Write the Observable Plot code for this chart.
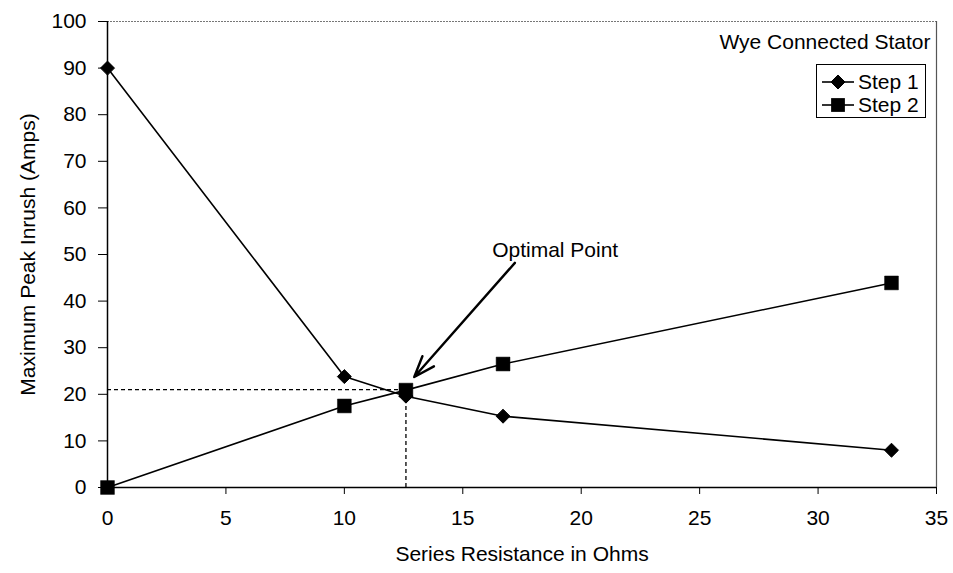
<!DOCTYPE html>
<html>
<head>
<meta charset="utf-8">
<script src="https://cdn.jsdelivr.net/npm/d3@7"></script>
<script src="https://cdn.jsdelivr.net/npm/@observablehq/plot@0.6"></script>
<style>
  html, body { margin: 0; padding: 0; background: #fff; }
  #wrap { position: relative; width: 953px; height: 573px; font-family: "Liberation Sans", Arial, sans-serif; }
  #legend { position: absolute; left: 816px; top: 64px; width: 108px; height: 52px; border: 1px solid #000; background: #fff; }
</style>
</head>
<body>
<div id="wrap"><div id="chart"></div><div id="legend"></div></div>
<script>
// Data
const resistance = [0, 10, 12.6, 16.7, 33.1];
const step1 = [90, 23.8, 19.6, 15.3, 8.0];
const step2 = [0, 17.5, 20.9, 26.5, 43.9];
const seriesNames = ["Step 1", "Step 2"];
const xTicks = [0, 5, 10, 15, 20, 25, 30, 35];
const yTicks = [0, 10, 20, 30, 40, 50, 60, 70, 80, 90, 100];
const optimalX = 12.6;
const optimalY = 21.0;
const optimalYLow = 20.0;
const optimalHLineEnd = 12.3;
const annotationText = ["Optimal Point"];
const annotationTextPos = [18.9, 51.0];
const arrowStart = [17.2, 48.2];
const arrowEnd = [12.95, 23.7];
const chartTitle = "Wye Connected Stator";
const xLabel = "Series Resistance in Ohms";
const yLabel = "Maximum Peak Inrush (Amps)";

const s1 = resistance.map((x, i) => ({x, y: step1[i], s: seriesNames[0]}));
const s2 = resistance.map((x, i) => ({x, y: step2[i], s: seriesNames[1]}));

const font = "Liberation Sans, Arial, sans-serif";
const fs = 21;

const plot = Plot.plot({
  width: 953,
  height: 573,
  marginLeft: 107,
  marginRight: 17,
  marginTop: 21,
  marginBottom: 86,
  style: {fontFamily: font, fontSize: fs + "px", color: "#000", background: "#fff"},
  x: {domain: [0, 35]},
  y: {domain: [0, 100]},
  marks: [
    // plot area border (top & right)
    Plot.ruleY([100], {stroke: "#777", strokeWidth: 1, strokeDasharray: "2,1"}),
    Plot.ruleX([35], {stroke: "#555", strokeWidth: 1.2}),
    // dashed guides
    Plot.ruleY([optimalY], {x1: 0, x2: optimalHLineEnd, stroke: "#000", strokeWidth: 1.3, strokeDasharray: "4,3"}),
    Plot.ruleX([optimalX], {y1: 0, y2: optimalYLow, stroke: "#000", strokeWidth: 1.3, strokeDasharray: "4,3"}),
    // axes
    Plot.axisY({ticks: yTicks, tickSize: 9, tickPadding: 12, fontSize: fs, label: null, stroke: "#000"}),
    Plot.axisX({ticks: xTicks, tickSize: 7, tickPadding: 16, fontSize: fs, label: null, stroke: "#000"}),
    Plot.ruleX([0], {stroke: "#000", strokeWidth: 1.5}),
    Plot.ruleY([0], {stroke: "#000", strokeWidth: 1.5}),
    // series
    Plot.line(s1, {x: "x", y: "y", stroke: "#000", strokeWidth: 1.6}),
    Plot.line(s2, {x: "x", y: "y", stroke: "#000", strokeWidth: 1.6}),
    Plot.dot(s1, {x: "x", y: "y", symbol: "diamond2", r: 6.3, fill: "#000", stroke: "#000", strokeWidth: 1}),
    Plot.dot(s2, {x: "x", y: "y", symbol: "square", r: 7.8, fill: "#000", stroke: "#000", strokeWidth: 0.5}),
    // annotation
    Plot.arrow([{x1: arrowStart[0], y1: arrowStart[1], x2: arrowEnd[0], y2: arrowEnd[1]}], {
      x1: "x1", y1: "y1", x2: "x2", y2: "y2", stroke: "#000", strokeWidth: 2.4, headLength: 14, headAngle: 40, bend: 0
    }),
    Plot.text(annotationText, {x: () => annotationTextPos[0], y: () => annotationTextPos[1], text: d => d, fontSize: fs, fill: "#000", textAnchor: "middle"}),
    Plot.text([chartTitle], {frameAnchor: "top-right", dx: -6, dy: 21, text: d => d, fontSize: fs, fill: "#000", lineAnchor: "middle"}),
    // axis titles
    Plot.text([xLabel], {frameAnchor: "bottom", dy: 67, text: d => d, fontSize: fs, fill: "#000", lineAnchor: "middle", textAnchor: "middle"}),
    Plot.text([yLabel], {frameAnchor: "left", dx: -79, text: d => d, fontSize: fs, fill: "#000", rotate: -90, lineAnchor: "middle", textAnchor: "middle"})
  ]
});
document.getElementById("chart").appendChild(plot);

// Legend (inside the plot area, top right)
const legend = d3.select("#legend").append("svg").attr("width", 108).attr("height", 52)
  .style("font-family", font).style("font-size", fs + "px");
seriesNames.forEach((name, i) => {
  const cy = 17 + i * 23;
  const g = legend.append("g");
  g.append("line").attr("x1", 5).attr("x2", 37).attr("y1", cy).attr("y2", cy).attr("stroke", "#000").attr("stroke-width", 1.6);
  if (i === 0) {
    g.append("path").attr("d", d3.symbol(d3.symbolDiamond2, 125)()).attr("transform", `translate(21,${cy})`).attr("fill", "#000").attr("stroke", "#000");
  } else {
    g.append("path").attr("d", d3.symbol(d3.symbolSquare, 190)()).attr("transform", `translate(21,${cy})`).attr("fill", "#000");
  }
  g.append("text").attr("x", 41).attr("y", cy).attr("dy", "0.35em").text(name);
});
</script>
</body>
</html>
